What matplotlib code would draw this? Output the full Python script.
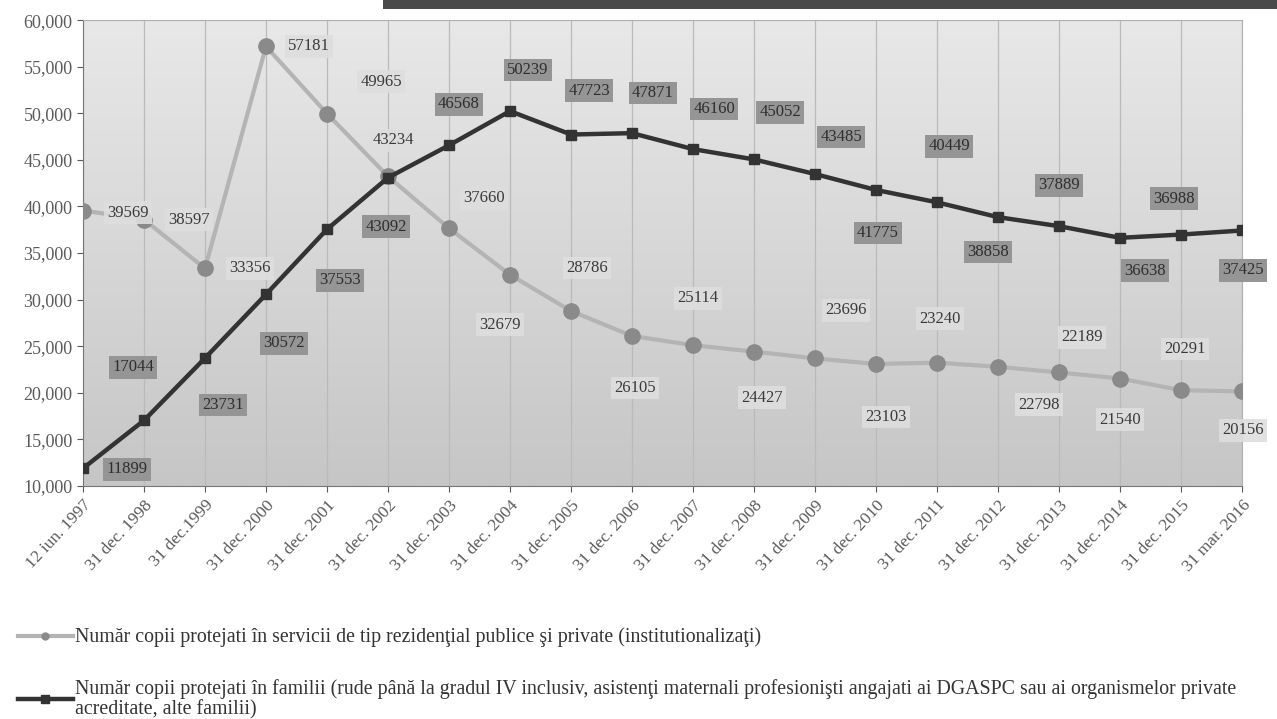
import numpy as np
import matplotlib.pyplot as plt
import matplotlib.transforms as mtransforms
from matplotlib.colors import LinearSegmentedColormap
from matplotlib.lines import Line2D
from matplotlib.patches import Rectangle

plt.rcParams['font.family'] = ['Liberation Serif', 'DejaVu Serif']

# categorii (data de referinta)
date_labels = ["12 iun. 1997", "31 dec. 1998", "31 dec.1999", "31 dec. 2000",
               "31 dec. 2001", "31 dec. 2002", "31 dec. 2003", "31 dec. 2004",
               "31 dec. 2005", "31 dec. 2006", "31 dec. 2007", "31 dec. 2008",
               "31 dec. 2009", "31 dec. 2010", "31 dec. 2011", "31 dec. 2012",
               "31 dec. 2013", "31 dec. 2014", "31 dec. 2015", "31 mar. 2016"]

# copii in servicii rezidentiale (institutionalizati)
institutionalizati = [39569, 38597, 33356, 57181, 49965, 43234, 37660, 32679,
                      28786, 26105, 25114, 24427, 23696, 23103, 23240, 22798,
                      22189, 21540, 20291, 20156]

# copii protejati in familii
familii = [11899, 17044, 23731, 30572, 37553, 43092, 46568, 50239, 47723,
           47871, 46160, 45052, 43485, 41775, 40449, 38858, 37889, 36638,
           36988, 37425]

y_ticks = [10000, 15000, 20000, 25000, 30000, 35000, 40000, 45000, 50000,
           55000, 60000]

# pozitia etichetelor fata de puncte (pixeli)
inst_offsets = [(45, -2), (45, 0), (45, 0), (43, 0), (54, 32), (5, 36),
                (35, 30), (-10, -50), (16, 43), (3, -52), (5, 47), (8, -46),
                (31, 48), (10, -53), (3, 44), (41, -38), (23, 35), (0, -41),
                (4, 41), (1, -39)]
fam_offsets = [(44, -1), (-11, 53), (18, -47), (18, -49), (13, -51), (-2, -49),
               (10, 41), (18, 41), (18, 44), (21, 40), (21, 40), (26, 47),
               (26, 37), (2, -43), (12, 56), (-10, -35), (0, 41), (25, -33),
               (-7, 36), (1, -40)]

legend_inst = ("Număr copii protejati în servicii de tip rezidenţial publice "
               "şi private (institutionalizaţi)")
legend_fam = ("Număr copii protejati în familii (rude până la gradul IV inclusiv, "
              "asistenţi maternali profesionişti angajati ai DGASPC sau ai "
              "organismelor private\nacreditate, alte familii)")

fig = plt.figure(figsize=(12.77, 7.19), dpi=100)
fig.patch.set_facecolor('white')
ax = fig.add_axes([0.065, 0.324, 0.9076, 0.648])

x = np.arange(len(date_labels))

# fundal cu gradient (deschis sus, mai inchis jos)
grad = np.linspace(0, 1, 256).reshape(-1, 1)
bg_cmap = LinearSegmentedColormap.from_list('bg', ['#e8e8e8', '#c6c6c6'])
ax.imshow(grad, cmap=bg_cmap, aspect='auto', extent=[0, 1, 0, 1],
          origin='upper', transform=ax.transAxes, zorder=0)

for xi in x:
    ax.axvline(xi, color='#bababa', lw=0.9, zorder=1)

ax.plot(x, institutionalizati, color='#b4b4b4', lw=3, marker='o', ms=11,
        mfc='#8a8a8a', mec='#8a8a8a', zorder=3)
ax.plot(x, familii, color='#333333', lw=3.2, marker='s', ms=7,
        mfc='#333333', mec='#333333', zorder=4)

for xi, v, (dx, dy) in zip(x, institutionalizati, inst_offsets):
    ax.annotate(str(v), (xi, v), xytext=(dx, dy), textcoords='offset pixels',
                ha='center', va='center', fontsize=12, color='#3a3a3a',
                bbox=dict(boxstyle='square,pad=0.2', fc='#dedede', ec='none',
                          alpha=0.9), zorder=5, annotation_clip=False)

for xi, v, (dx, dy) in zip(x, familii, fam_offsets):
    ax.annotate(str(v), (xi, v), xytext=(dx, dy), textcoords='offset pixels',
                ha='center', va='center', fontsize=12, color='#2e2e2e',
                bbox=dict(boxstyle='square,pad=0.2', fc='#959595', ec='none'),
                zorder=5, annotation_clip=False)

ax.set_xlim(0, len(x) - 1)
ax.set_ylim(10000, 60000)
ax.set_yticks(y_ticks)
ax.set_yticklabels([f"{t:,}" for t in y_ticks])
ax.set_xticks(x)
ax.set_xticklabels(date_labels, rotation=47, ha='right', va='top',
                   rotation_mode='anchor')
shift = mtransforms.ScaledTranslation(2 / 100, -3 / 100, fig.dpi_scale_trans)
for lbl in ax.get_xticklabels():
    lbl.set_transform(lbl.get_transform() + shift)
ax.tick_params(axis='both', colors='#5a5a5a', labelsize=13, length=4,
               direction='out')
ax.tick_params(axis='x', labelsize=12.5, pad=4)
for s in ['top', 'right']:
    ax.spines[s].set_color('#b0b0b0')
    ax.spines[s].set_linewidth(0.8)
for s in ['left', 'bottom']:
    ax.spines[s].set_color('#777777')
    ax.spines[s].set_linewidth(0.8)

handles = [Line2D([], [], color='#b4b4b4', lw=3, marker='o', ms=5,
                  mfc='#8a8a8a', mec='#8a8a8a'),
           Line2D([], [], color='#333333', lw=3.2, marker='s', ms=6,
                  mfc='#333333', mec='#333333')]
leg = fig.legend(handles, [legend_inst, legend_fam], loc='upper left',
                 bbox_to_anchor=(0.008, 0.138), borderaxespad=0,
                 frameon=False, fontsize=14.3, handlelength=2.75,
                 handletextpad=0.1, labelspacing=1.6, labelcolor='#333333')
for t in leg.get_texts():
    t.set_linespacing(1.05)

# banda intunecata de sus (scanare)
fig.patches.append(Rectangle((0.3, 0.988), 0.7, 0.012, transform=fig.transFigure,
                             fc='#4a4a4a', ec='none'))

fig.savefig('out.png', dpi=100)
